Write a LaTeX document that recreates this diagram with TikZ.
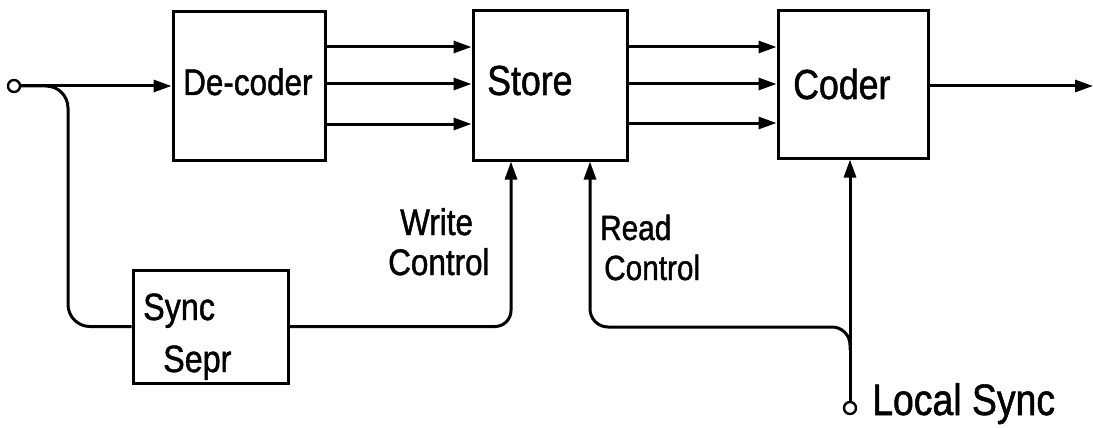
\documentclass[tikz,border=0pt]{standalone}
\usepackage{fontspec}
\setmainfont{Liberation Sans}[FakeStretch=0.85,FakeBold=1.2]
\usetikzlibrary{arrows.meta,calc}
\tikzset{
  ln/.style={line width=3pt},
  blk/.style={draw,line width=3pt,rectangle,inner sep=0pt},
  term/.style={draw,line width=2.4pt,circle,minimum size=12pt,inner sep=0pt},
  arr/.style={ln,-{Triangle[length=18pt,width=12pt]}},
  txt/.style={inner sep=0pt,anchor=base west},
}
\begin{document}
\begin{tikzpicture}[x=1pt,y=-1pt]
\useasboundingbox (0,0) rectangle (1093,428);
% blocks
\node[blk,minimum width=152pt,minimum height=148pt] (dec) at (249,86) {};
\node[blk,minimum width=154pt,minimum height=149pt] (store) at (550,85.5) {};
\node[blk,minimum width=150pt,minimum height=147pt] (coder) at (853,84.5) {};
\node[blk,minimum width=155pt,minimum height=113pt] (sync) at (210.5,326.5) {};
% terminals
\node[term] (in) at (14,86) {};
\node[term] (local) at (850,408) {};
\coordinate (out) at (1093,86);
\coordinate (join) at (850,350);
% texts
\node[txt,font=\fontsize{37}{37}\selectfont] (tdec) at (183,95) {De-coder};
\node[txt,font=\fontsize{42}{42}\selectfont] (tstore) at (487,95) {Store};
\node[txt,font=\fontsize{42}{42}\selectfont] (tcoder) at (793,99) {Coder};
\node[txt,font=\fontsize{38}{38}\selectfont] (tsync1) at (143,320) {Sync};
\node[txt,font=\fontsize{38}{38}\selectfont] (tsync2) at (163,372) {Sepr};
\node[txt,font=\fontsize{37}{37}\selectfont] (tw1) at (400,235) {Write};
\node[txt,font=\fontsize{37}{37}\selectfont] (tw2) at (388,275) {Control};
\node[txt,font=\fontsize{35}{35}\selectfont] (tr1) at (600,240) {Read};
\node[txt,font=\fontsize{35}{35}\selectfont] (tr2) at (604,280) {Control};
\node[txt,font=\fontsize{44}{44}\selectfont] (tlocal) at (872,415) {Local Sync};
% input
\draw[arr] (in.east) -- (dec.west);
\draw[ln,rounded corners=22pt] (in.east) -- (68,86) -- (68,326.5) -- (sync.west);
% decoder to store
\foreach \yy in {47,84,124}
  \draw[arr] (dec.east |- 0,\yy) -- (store.west |- 0,\yy);
% store to coder
\foreach \yy in {47,84,123}
  \draw[arr] (store.east |- 0,\yy) -- (coder.west |- 0,\yy);
% output
\draw[arr] (coder.east |- out) -- (out);
% write control
\draw[arr,rounded corners=16pt] (sync.east) -| (store.south -| 511,0);
% local sync to coder
\draw[arr] (local.north) -- (local.north |- coder.south);
% read control
\draw[arr,rounded corners=18pt] (join) |- (590,327) -- (store.south -| 590,0);
\end{tikzpicture}
\end{document}
